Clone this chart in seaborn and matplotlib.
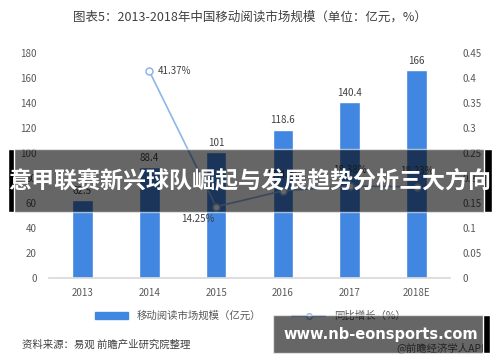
import numpy as np
import pandas as pd
import matplotlib.pyplot as plt
import matplotlib.patches as mpatches
import matplotlib.lines as mlines
import seaborn as sns

# chart data
years = ['2013', '2014', '2015', '2016', '2017', '2018E']
market_size = [62.5, 88.4, 101, 118.6, 140.4, 166]
bar_labels = ['62.5', '88.4', '101', '118.6', '140.4', '166']
growth = [np.nan, 0.4137, 0.1425, 0.1743, 0.1838, 0.1823]
growth_labels = ['', '41.37%', '14.25%', '17.43%', '18.38%', '18.23%']
left_ticks = [0, 20, 40, 60, 80, 100, 120, 140, 160, 180]
right_ticks = [0, 0.05, 0.1, 0.15, 0.2, 0.25, 0.3, 0.35, 0.4, 0.45]

title = '图表5：2013-2018年中国移动阅读市场规模（单位：亿元，%）'
banner = '意甲联赛新兴球队崛起与发展趋势分析三大方向'
site = 'www.nb-eonsports.com'
source = '资料来源：易观 前瞻产业研究院整理'

sns.set_theme(style='white')
plt.rcParams['font.family'] = ['Noto Sans CJK SC', 'DejaVu Sans']

df = pd.DataFrame({'year': years, 'size': market_size, 'growth': growth})

bar_color = '#4186E0'
line_color = '#8DB6E8'
text_color = '#595959'

fig = plt.figure(figsize=(5, 3.62), dpi=100)
ax = fig.add_axes([0.098, 0.232, 0.802, 0.622])

sns.barplot(data=df, x='year', y='size', color=bar_color, width=0.31,
            saturation=1, ax=ax)
ax.bar_label(ax.containers[0], labels=bar_labels, padding=3, fontsize=7, color='#404040')
ax.set_ylim(0, 180)
ax.set_yticks(left_ticks)
ax.set_xlabel('')
ax.set_ylabel('')
ax.tick_params(axis='both', length=0, labelsize=7, colors=text_color)
ax.tick_params(axis='y', pad=9)
ax.tick_params(axis='x', pad=7)
for s in ['left', 'right', 'top']:
    ax.spines[s].set_visible(False)
ax.spines['bottom'].set_color('#d9d9d9')

ax2 = ax.twinx()
xpos = np.arange(len(years))
sns.lineplot(x=xpos, y=df['growth'], color=line_color, linewidth=1.2,
             marker='o', markersize=5, markerfacecolor='white',
             markeredgecolor=line_color, markeredgewidth=1.1, ax=ax2)
ax2.set_ylim(0, 0.45)
ax2.set_yticks(right_ticks)
ax2.set_yticklabels([('%g' % t) for t in right_ticks])
ax2.set_ylabel('')
ax2.tick_params(axis='y', length=0, labelsize=7, colors=text_color, pad=9)
for s in ['left', 'right', 'top', 'bottom']:
    ax2.spines[s].set_visible(False)
ax.set_xlim(-0.5, 5.5)

# growth labels
offsets = {1: (6, 0, 'left', 'center'), 2: (-1, -9, 'right', 'center'),
           3: (0, 8, 'center', 'bottom'), 4: (0, 8, 'center', 'bottom'),
           5: (0, 8, 'center', 'bottom')}
for i, (dx, dy, ha, va) in offsets.items():
    ax2.annotate(growth_labels[i], (xpos[i], growth[i]), xytext=(dx, dy),
                 textcoords='offset points', ha=ha, va=va, fontsize=7, color='#404040')

fig.text(0.5, 0.953, title, ha='center', va='center', fontsize=9, color='#404040')

# legend
h_bar = mpatches.Patch(color=bar_color, label='移动阅读市场规模（亿元）')
h_line = mlines.Line2D([], [], color=line_color, marker='o', markerfacecolor='white',
                       markersize=4, label='同比增长（%）')
fig.legend(handles=[h_bar, h_line], loc='center', bbox_to_anchor=(0.5, 0.127), ncol=2,
           frameon=False, fontsize=7.5, handlelength=3.2, handleheight=0.7,
           columnspacing=3, labelcolor='#595959')

fig.text(0.044, 0.047, source, ha='left', va='center', fontsize=7.5, color='#404040')
fig.text(0.976, 0.04, '@前瞻经济学人APP', ha='right', va='center', fontsize=7.5, color='#595959')

# overlay banner across middle
fig.patches.append(mpatches.Rectangle((0.016, 1 - 212 / 362), 0.968, 63 / 362,
                   transform=fig.transFigure, facecolor='black', alpha=0.6, zorder=10))
fig.patches.append(mpatches.Rectangle((0.016, 1 - 212 / 362), 0.012, 63 / 362,
                   transform=fig.transFigure, facecolor='black', zorder=10))
fig.patches.append(mpatches.Rectangle((0.968, 1 - 212 / 362), 0.016, 63 / 362,
                   transform=fig.transFigure, facecolor='black', zorder=10))
fig.text(0.5, 1 - 181 / 362, banner, ha='center', va='center', fontsize=16.6,
         fontweight='bold', color='white', zorder=11)

# site watermark box bottom right
fig.patches.append(mpatches.Rectangle((273 / 500, 1 - 353 / 362), 217 / 500, 38 / 362,
                   transform=fig.transFigure, facecolor='black', alpha=0.6, zorder=10))
fig.patches.append(mpatches.Rectangle((483 / 500, 1 - 353 / 362), 7 / 500, 38 / 362,
                   transform=fig.transFigure, facecolor='black', zorder=10))
fig.text(381 / 500, 1 - 334 / 362, site, ha='center', va='center', fontsize=10.5,
         fontweight='bold', color='white', family='DejaVu Sans', zorder=11)

fig.savefig('out.png', dpi=100)
